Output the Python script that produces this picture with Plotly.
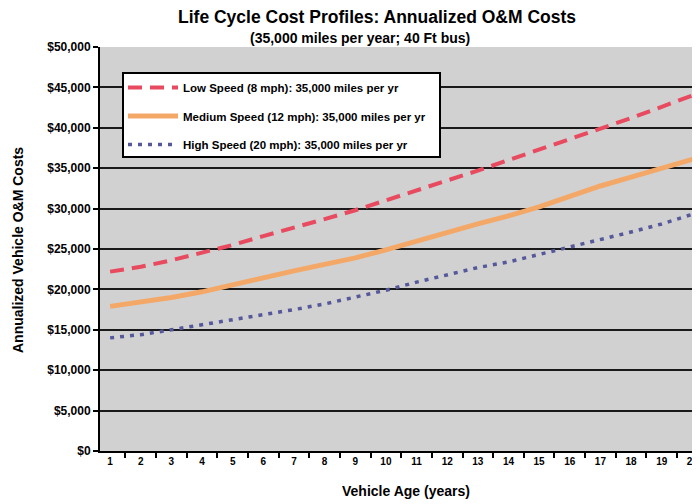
import plotly.graph_objects as go

years = list(range(1, 21))
low_speed = [22.2, 22.8, 23.6, 24.5, 25.5, 26.6, 27.6, 28.7, 29.8, 31.0,
             32.2, 33.4, 34.7, 36.0, 37.3, 38.6, 39.8, 41.2, 42.6, 44.0]
medium_speed = [17.9, 18.4, 19.0, 19.7, 20.6, 21.4, 22.3, 23.1, 23.9, 24.9,
                26.0, 27.1, 28.1, 29.1, 30.2, 31.5, 32.8, 33.9, 35.0, 36.1]
high_speed = [14.0, 14.4, 15.0, 15.6, 16.2, 16.9, 17.5, 18.2, 19.0, 19.9,
              20.9, 21.8, 22.7, 23.4, 24.3, 25.2, 26.2, 27.1, 28.1, 29.3]
series_names = ["Low Speed (8 mph): 35,000 miles per yr",
                "Medium Speed (12 mph): 35,000 miles per yr",
                "High Speed (20 mph): 35,000 miles per yr"]
y_ticks = [0, 5000, 10000, 15000, 20000, 25000, 30000, 35000, 40000, 45000, 50000]

FONT = "Liberation Sans, Arial, sans-serif"
OFF = 8  # page body margin
W, H = 700 - OFF, 504 - OFF
L, R, T, B = 92, 0, 39, 53
pw, ph = W - L - R, H - T - B


def px_x(x):  # page pixel -> paper
    return (x - OFF - L) / pw


def px_y(y):
    return 1 - (y - OFF - T) / ph


def note(text, x, y, size, angle=0):
    return dict(text=text, xref="paper", yref="paper", x=px_x(x), y=px_y(y),
                xanchor="center", yanchor="middle", showarrow=False, textangle=angle,
                font=dict(size=size, family=FONT, color="black"))


fig = go.Figure()
fig.add_trace(go.Scatter(x=years, y=[v * 1000 for v in low_speed], name=series_names[0],
                         mode="lines", legendgroup="a",
                         line=dict(color="#e84a5f", width=4, dash="14px,8px")))
fig.add_trace(go.Scatter(x=years, y=[v * 1000 for v in medium_speed], name=series_names[1],
                         mode="lines", legendgroup="b",
                         line=dict(color="#f3a868", width=5)))
fig.add_trace(go.Scatter(x=years, y=[v * 1000 for v in high_speed], name=series_names[2],
                         mode="lines", legendgroup="c",
                         line=dict(color="#55589a", width=3.5, dash="4px,6px")))

fig.update_layout(
    width=W, height=H,
    margin=dict(l=L, r=R, t=T, b=B),
    paper_bgcolor="white",
    plot_bgcolor="#d2d1d1",
    font=dict(family=FONT, color="black"),
    showlegend=True,
    legend=dict(x=px_x(123), y=px_y(73), xanchor="left", yanchor="top",
                bgcolor="rgba(0,0,0,0)", borderwidth=0, itemwidth=50,
                font=dict(size=11.5, family=FONT, color="black", weight="bold"),
                tracegroupgap=9.5),
    shapes=[dict(type="rect", xref="paper", yref="paper",
                 x0=px_x(123), x1=px_x(440), y0=px_y(157), y1=px_y(73),
                 fillcolor="white", line=dict(color="black", width=2), layer="above")],
    annotations=[
        note("<b>Life Cycle Cost Profiles: Annualized O&M Costs</b>", 377, 17, 17.5),
        note("<b>(35,000 miles per year; 40 Ft bus)</b>", 360, 38, 14),
        note("<b>Annualized Vehicle O&M Costs</b>", 18, 250, 14, angle=-90),
        note("<b>Vehicle Age (years)</b>", 406, 491, 14),
    ],
)

fig.update_xaxes(range=[0.67, 20.25], tickmode="array", tickvals=years,
                 ticktext=[str(v) for v in years], ticks="", showgrid=False,
                 showline=True, linecolor="black", linewidth=2, zeroline=False,
                 ticklabeloverflow="allow",
                 tickfont=dict(size=10, family=FONT, weight="bold"),
                 minor=dict(tickmode="array", tickvals=[v + 0.5 for v in years[:-1]],
                            ticks="outside", ticklen=5, tickcolor="black", tickwidth=1.5,
                            showgrid=False))
fig.update_yaxes(range=[0, 50000], tickmode="array", tickvals=y_ticks,
                 ticktext=["$" + format(v, ",") for v in y_ticks],
                 ticks="outside", ticklen=5, tickcolor="black", tickwidth=1.5,
                 showgrid=True, gridcolor="#1a1a1a", gridwidth=2,
                 showline=True, linecolor="black", linewidth=2, zeroline=False,
                 tickfont=dict(size=12, family=FONT, weight="bold"))

fig.write_html("out.html")
